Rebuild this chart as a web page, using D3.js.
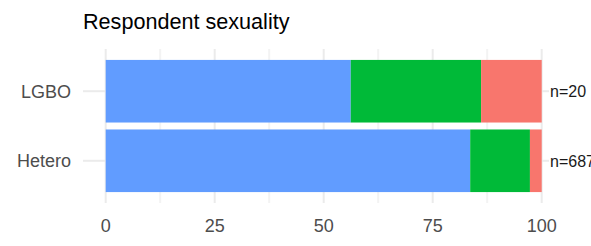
<!DOCTYPE html>
<html lang="en">
<head>
<meta charset="UTF-8">
<title>Respondent sexuality</title>
<script src="https://d3js.org/d3.v7.min.js"></script>
<style>
    body { margin: 0; background: #fff; }
    text { font-family: "Liberation Sans", Arial, sans-serif; }
    .grid-major { stroke: #EBEBEB; stroke-width: 2; }
    .grid-minor { stroke: #F3F3F3; stroke-width: 2; }
    .tick-label { fill: #4D4D4D; font-size: 18px; }
    .n-label { fill: #1A1A1A; font-size: 16px; }
    .title { fill: #000; font-size: 21.6px; }
</style>
</head>
<body>
<svg></svg>
<script>
    // categories top to bottom
    const groups = ["LGBO", "Hetero"];
    const nLabels = ["n=20", "n=687"];
    // percentages per group, stacked left to right
    const pctBlue = [56.2, 83.6];
    const pctGreen = [29.9, 13.7];
    const pctRed = [13.9, 2.7];
    const xTicks = [0, 25, 50, 75, 100];
    const xMinor = [12.5, 37.5, 62.5, 87.5];

    const colors = ["#619CFF", "#00BA38", "#F8766D"];

    const W = 591, H = 246;
    const panel = { left: 105.7, right: 541.7, top: 49, bottom: 203 };

    const svg = d3.select("svg").attr("width", W).attr("height", H);

    const x = d3.scaleLinear().domain([0, 100]).range([panel.left, panel.right]);
    const y = d3.scaleBand().domain(groups)
        .range([panel.top, panel.bottom])
        .paddingInner(0.1)
        .paddingOuter(0.157);

    // title
    svg.append("text").attr("class", "title")
        .attr("x", 83).attr("y", 28.5)
        .text("Respondent sexuality");

    // gridlines
    svg.selectAll(".grid-minor").data(xMinor).enter().append("line")
        .attr("class", "grid-minor")
        .attr("x1", d => x(d)).attr("x2", d => x(d))
        .attr("y1", panel.top).attr("y2", panel.bottom);
    svg.selectAll(".grid-major").data(xTicks).enter().append("line")
        .attr("class", "grid-major")
        .attr("x1", d => x(d)).attr("x2", d => x(d))
        .attr("y1", panel.top).attr("y2", panel.bottom);

    // y ticks on both sides
    const yc = d => y(d) + y.bandwidth() / 2;
    svg.selectAll(".ytick-l").data(groups).enter().append("line")
        .attr("class", "grid-major")
        .attr("x1", 83).attr("x2", panel.left)
        .attr("y1", yc).attr("y2", yc);
    svg.selectAll(".ytick-r").data(groups).enter().append("line")
        .attr("class", "grid-major")
        .attr("x1", panel.right).attr("x2", 549)
        .attr("y1", yc).attr("y2", yc);

    // stacked bars
    const rows = groups.map((g, i) => ({ group: g, values: [pctBlue[i], pctGreen[i], pctRed[i]] }));
    rows.forEach(r => {
        let acc = 0;
        r.values.forEach((v, j) => {
            svg.append("rect")
                .attr("x", x(acc))
                .attr("width", x(acc + v) - x(acc))
                .attr("y", y(r.group))
                .attr("height", y.bandwidth())
                .attr("fill", colors[j]);
            acc += v;
        });
    });

    // y labels
    svg.selectAll(".ylab").data(groups).enter().append("text")
        .attr("class", "tick-label")
        .attr("x", 71).attr("y", yc).attr("dy", "0.36em")
        .attr("text-anchor", "end")
        .text(d => d);

    // n labels on right
    svg.selectAll(".nlab").data(groups).enter().append("text")
        .attr("class", "n-label")
        .attr("x", 550).attr("y", yc).attr("dy", "0.36em")
        .text((d, i) => nLabels[i]);

    // x labels
    svg.selectAll(".xlab").data(xTicks).enter().append("text")
        .attr("class", "tick-label")
        .attr("x", d => x(d)).attr("y", 231.5)
        .attr("text-anchor", "middle")
        .text(d => d);
</script>
</body>
</html>
